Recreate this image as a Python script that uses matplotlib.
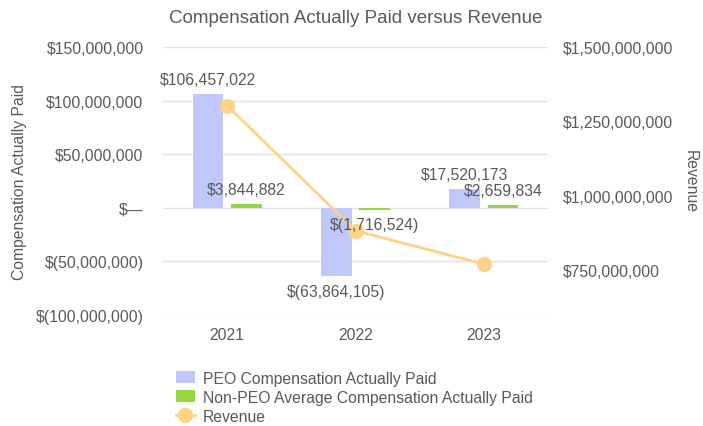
import numpy as np
import matplotlib.pyplot as plt
from matplotlib.ticker import FuncFormatter

plt.rcParams['font.family'] = ['Liberation Sans', 'DejaVu Sans']

# данные
years = ['2021', '2022', '2023']
peo_cap = [106457022, -63864105, 17520173]
non_peo_cap = [3844882, -1716524, 2659834]
revenue = [1303000000, 883000000, 771000000]

blue = '#bfc8f8'
green = '#94d643'
orange = '#fdd386'
grey = '#595959'


def money(v):
    if v == 0:
        return '$—'
    if v < 0:
        return f'$({abs(v):,.0f})'
    return f'${v:,.0f}'


fig = plt.figure(figsize=(7.03, 4.27), dpi=100)
ax = fig.add_axes([163 / 703, 1 - 316 / 427, 385 / 703, 268 / 427])
ax2 = ax.twinx()

x = np.arange(len(years))
w = 0.24
b1 = ax.bar(x - 0.15, peo_cap, w, color=blue, label='PEO Compensation Actually Paid', zorder=2)
b2 = ax.bar(x + 0.15, non_peo_cap, w, color=green,
            label='Non-PEO Average Compensation Actually Paid', zorder=2)

ax.set_xlim(-0.5, 2.5)
ax.set_ylim(-100e6, 150e6)
ax.set_yticks(np.arange(-100e6, 150e6 + 1, 50e6))
ax.yaxis.set_major_formatter(FuncFormatter(lambda v, p: money(v)))
ax.set_xticks(x)
ax.set_xticklabels(years)
ax.grid(axis='y', color='#e2e2e2', linewidth=1, zorder=0)
ax.set_axisbelow(True)

line, = ax2.plot(x, revenue, color=orange, lw=2, marker='o', ms=10, label='Revenue', zorder=3)
ax2.set_ylim(600e6, 1500e6)
ax2.set_yticks([750e6, 1000e6, 1250e6, 1500e6])
ax2.yaxis.set_major_formatter(FuncFormatter(lambda v, p: money(v)))

for a in (ax, ax2):
    for s in a.spines.values():
        s.set_visible(False)
    a.tick_params(length=0, labelsize=11.3, colors=grey)
ax.tick_params(axis='y', pad=14)
ax.tick_params(axis='x', pad=9)
ax2.tick_params(axis='y', pad=11)

ax.set_ylabel('Compensation Actually Paid', fontsize=11.3, color=grey, labelpad=6)
ax2.set_ylabel('Revenue', fontsize=11.3, color=grey, rotation=270, labelpad=17)
ax.set_title('Compensation Actually Paid versus Revenue', fontsize=13.5, color=grey, pad=18)

# подписи значений над/под столбцами
for bars in (b1, b2):
    for r in bars:
        v = r.get_height()
        cx = r.get_x() + r.get_width() / 2
        off = 10.5 if v >= 0 else -11
        ax2.annotate(money(v), (cx, v), xycoords=ax.transData, xytext=(0, off),
                     textcoords='offset points', ha='center', va='center',
                     fontsize=11.3, color=grey, zorder=5)

fig.legend(handles=[b1, b2, line], loc='upper left', bbox_to_anchor=(168 / 703, 1 - 364 / 427),
           frameon=False, fontsize=11.3, labelcolor=grey, handlelength=1.2, handleheight=0.8,
           handletextpad=0.5, labelspacing=0.25, borderpad=0)

fig.savefig('out.png', dpi=100)
